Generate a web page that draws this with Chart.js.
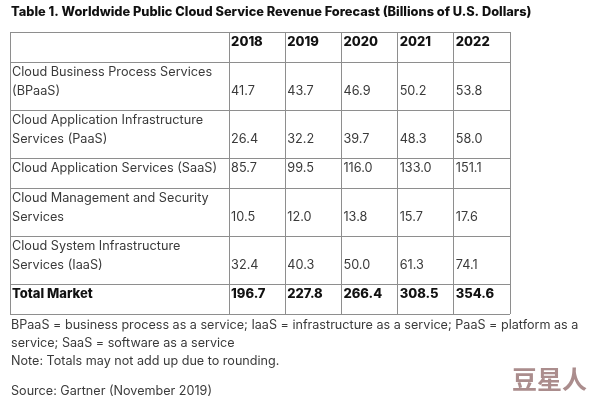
<!DOCTYPE html>
<html>
<head>
<meta charset="utf-8">
<script src="https://cdn.jsdelivr.net/npm/chart.js@4.4.1/dist/chart.umd.min.js"></script>
<style>
  html, body { margin: 0; padding: 0; background: #fff; }
  #wrap { width: 594px; height: 400px; }
</style>
</head>
<body>
<div id="wrap"><canvas id="tableCanvas"></canvas></div>
<script>
const titleText = 'Table 1. Worldwide Public Cloud Service Revenue Forecast (Billions of U.S. Dollars)';
const years = ['2018', '2019', '2020', '2021', '2022'];
const categories = [
  ['Cloud Business Process Services', '(BPaaS)'],
  ['Cloud Application Infrastructure', 'Services (PaaS)'],
  ['Cloud Application Services (SaaS)'],
  ['Cloud Management and Security', 'Services'],
  ['Cloud System Infrastructure', 'Services (IaaS)'],
  ['Total Market']
];
const bpaas = [41.7, 43.7, 46.9, 50.2, 53.8];
const paas = [26.4, 32.2, 39.7, 48.3, 58.0];
const saas = [85.7, 99.5, 116.0, 133.0, 151.1];
const management = [10.5, 12.0, 13.8, 15.7, 17.6];
const iaas = [32.4, 40.3, 50.0, 61.3, 74.1];
const totalMarket = [196.7, 227.8, 266.4, 308.5, 354.6];
const footnotes = [
  'BPaaS = business process as a service; IaaS = infrastructure as a service; PaaS = platform as a',
  'service; SaaS = software as a service',
  'Note: Totals may not add up due to rounding.'
];
const sourceNote = 'Source: Gartner (November 2019)';
const watermark = '豆星人';

const seriesValues = [bpaas, paas, saas, management, iaas, totalMarket];

// column edges (first column is wider) and row edges from the number of text lines
const labelColWidth = 3.9;
const xEdges = [0, labelColWidth];
years.forEach((yr, i) => xEdges.push(labelColWidth + i + 1));

function rowHeight(lines) {
  return 30 + 18 * (lines - 1);
}
const yEdges = [0, rowHeight(1)];
categories.forEach(lines => {
  yEdges.push(yEdges[yEdges.length - 1] + rowHeight(lines.length));
});

const fontFamily = 'Inter, "Noto Sans", sans-serif';
const textColor = '#3a3a3a';
const boldColor = '#111';

const tableText = {
  id: 'tableText',
  afterDraw(chart) {
    const ctx = chart.ctx;
    const x = chart.scales.x;
    const y = chart.scales.y;
    ctx.save();
    ctx.textBaseline = 'middle';
    ctx.textAlign = 'left';

    // title
    ctx.fillStyle = boldColor;
    ctx.font = '800 12.8px ' + fontFamily;
    ctx.fillText(titleText, 11, 12);

    // header row
    ctx.font = '800 13px ' + fontFamily;
    const headTop = y.getPixelForValue(yEdges[0]);
    years.forEach((yr, c) => {
      ctx.fillText(yr, x.getPixelForValue(xEdges[c + 1]) + 2, headTop + 10.5);
    });

    // body rows
    categories.forEach((lines, r) => {
      const top = y.getPixelForValue(yEdges[r + 1]);
      const isTotal = r === categories.length - 1;
      ctx.font = (isTotal ? '800 13px ' : '12.7px ') + fontFamily;
      ctx.fillStyle = isTotal ? boldColor : textColor;
      lines.forEach((line, i) => {
        ctx.fillText(line, x.getPixelForValue(xEdges[0]) + 2, top + 10.5 + 18.5 * i);
      });
      const lastY = top + 10.5 + 18.5 * (lines.length - 1);
      seriesValues[r].forEach((v, c) => {
        ctx.fillText(v.toFixed(1), x.getPixelForValue(xEdges[c + 1]) + 2, lastY);
      });
    });

    // notes under the table
    const bottom = y.getPixelForValue(yEdges[yEdges.length - 1]);
    ctx.font = '12.6px ' + fontFamily;
    ctx.fillStyle = textColor;
    footnotes.forEach((line, i) => {
      ctx.fillText(line, 11, bottom + 11 + 18 * i);
    });
    ctx.fillText(sourceNote, 11, bottom + 77);

    // watermark
    ctx.font = 'bold 25px "Noto Sans CJK SC", sans-serif';
    ctx.fillStyle = '#ab8d8d';
    ctx.fillText(watermark, 512, bottom + 65);
    ctx.restore();
  }
};

const gridColor = '#8e8e8e';

new Chart(document.getElementById('tableCanvas'), {
  type: 'scatter',
  data: { datasets: [] },
  options: {
    responsive: true,
    maintainAspectRatio: false,
    animation: false,
    layout: { padding: { left: 10, top: 32, right: 84, bottom: 86 } },
    plugins: { legend: { display: false }, tooltip: { enabled: false } },
    scales: {
      x: {
        type: 'linear',
        min: 0,
        max: xEdges[xEdges.length - 1],
        afterBuildTicks: axis => { axis.ticks = xEdges.map(v => ({ value: v })); },
        ticks: { display: false },
        grid: { color: gridColor, drawTicks: false },
        border: { display: false }
      },
      y: {
        type: 'linear',
        reverse: true,
        min: 0,
        max: yEdges[yEdges.length - 1],
        afterBuildTicks: axis => { axis.ticks = yEdges.map(v => ({ value: v })); },
        ticks: { display: false },
        grid: { color: gridColor, drawTicks: false },
        border: { display: false }
      }
    }
  },
  plugins: [tableText]
});
</script>
</body>
</html>
